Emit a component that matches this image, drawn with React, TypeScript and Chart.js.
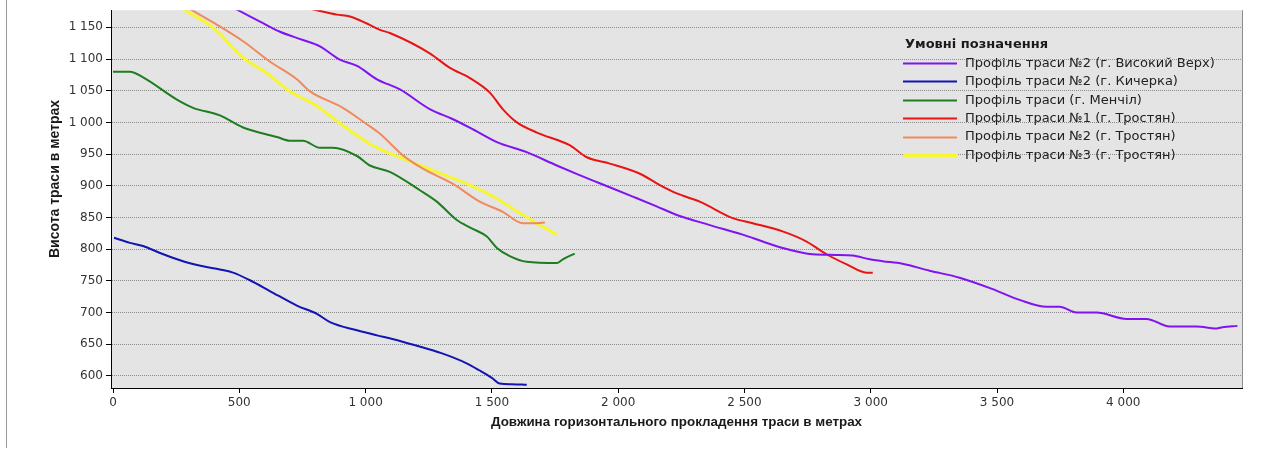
import React, { useEffect, useRef } from "react";
import { Chart, registerables } from "chart.js";

Chart.register(...registerables);

// ---- Data ----
const seriesLabels = [
  "Профіль траси №2 (г. Високий Верх)",
  "Профіль траси №2 (г. Кичерка)",
  "Профіль траси (г. Менчіл)",
  "Профіль траси №1 (г. Тростян)",
  "Профіль траси №2 (г. Тростян)",
  "Профіль траси №3 (г. Тростян)",
];
const seriesColors = ["#8014f0", "#1414b4", "#1e7d1e", "#e81414", "#f08a5d", "#f6f632"];

const vysokyiX = [420, 495, 582, 661, 752, 819, 898, 966, 1045, 1136, 1254, 1346, 1430, 1520, 1638, 1757, 1840, 1927, 2058, 2150, 2232, 2363, 2493, 2580, 2651, 2770, 2860, 2928, 2996, 3047, 3126, 3233, 3352, 3483, 3589, 3696, 3748, 3815, 3894, 4013, 4092, 4183, 4290, 4369, 4393, 4452];
const vysokyiY = [1192, 1177, 1159, 1143, 1130, 1120, 1099, 1089, 1068, 1052, 1021, 1005, 988, 969, 953, 932, 918, 904, 883, 868, 854, 838, 823, 811, 802, 792, 791, 790, 784, 781, 777, 766, 755, 737, 720, 709, 709, 700, 700, 690, 690, 678, 678, 675, 677, 679];

const kycherkaX = [4, 67, 119, 186, 277, 356, 423, 475, 542, 621, 728, 807, 859, 966, 1045, 1110, 1200, 1300, 1400, 1450, 1500, 1531, 1580, 1638];
const kycherkaY = [818, 810, 805, 794, 781, 773, 768, 763, 751, 734, 711, 698, 685, 672, 664, 658, 648, 636, 620, 609, 597, 588, 587, 586];

const menchilX = [0, 67, 119, 253, 317, 423, 515, 649, 700, 752, 819, 870, 966, 1017, 1096, 1215, 1282, 1361, 1420, 1480, 1520, 1571, 1638, 1757, 1781, 1828];
const menchilY = [1080, 1080, 1071, 1036, 1023, 1011, 992, 977, 971, 971, 960, 960, 947, 932, 922, 893, 875, 846, 833, 820, 802, 789, 780, 778, 784, 793];

const trostyan1X = [750, 807, 886, 938, 1005, 1057, 1096, 1254, 1334, 1413, 1492, 1543, 1599, 1678, 1808, 1876, 1967, 2086, 2165, 2232, 2323, 2454, 2533, 2651, 2746, 2825, 2905, 2984, 3008];
const trostyan1Y = [1182, 1177, 1170, 1167, 1156, 1146, 1141, 1109, 1086, 1070, 1047, 1021, 1000, 984, 964, 945, 935, 919, 901, 888, 875, 849, 841, 828, 812, 792, 776, 763, 763];

const trostyan2X = [250, 312, 412, 515, 621, 728, 780, 910, 1005, 1057, 1148, 1227, 1346, 1452, 1543, 1622, 1678, 1710];
const trostyan2Y = [1191, 1177, 1154, 1128, 1096, 1068, 1049, 1023, 997, 982, 948, 927, 903, 875, 859, 841, 841, 842];

const trostyan3X = [230, 285, 397, 516, 608, 700, 807, 910, 1017, 1057, 1148, 1282, 1413, 1520, 1571, 1678, 1757];
const trostyan3Y = [1190, 1177, 1149, 1102, 1078, 1049, 1026, 995, 966, 958, 943, 922, 901, 880, 867, 841, 823];

const seriesX = [vysokyiX, kycherkaX, menchilX, trostyan1X, trostyan2X, trostyan3X];
const seriesY = [vysokyiY, kycherkaY, menchilY, trostyan1Y, trostyan2Y, trostyan3Y];
const seriesWidths = [2, 2, 2, 2, 2, 3];

const xTickValues = [0, 500, 1000, 1500, 2000, 2500, 3000, 3500, 4000];
const yTickValues = [600, 650, 700, 750, 800, 850, 900, 950, 1000, 1050, 1100, 1150];

const xTitle = "Довжина горизонтального прокладення траси в метрах";
const yTitle = "Висота траси в метрах";
const legendTitle = "Умовні позначення";

const fmt = (v: number) => {
  const n = Math.round(v);
  if (Math.abs(n) < 1000) return String(n);
  const th = Math.floor(n / 1000);
  const rest = String(n % 1000).padStart(3, "0");
  return `${th} ${rest}`;
};

const plotBgPlugin = {
  id: "plotBg",
  beforeDraw(chart: any) {
    const { ctx, chartArea } = chart;
    ctx.save();
    ctx.fillStyle = "#ffffff";
    ctx.fillRect(0, 0, chart.width, chart.height);
    ctx.fillStyle = "#e4e4e4";
    ctx.fillRect(chartArea.left, chartArea.top, chartArea.right - chartArea.left, chartArea.bottom - chartArea.top);
    ctx.strokeStyle = "#9a9a9a";
    ctx.lineWidth = 1;
    ctx.beginPath();
    ctx.moveTo(6.5, 0);
    ctx.lineTo(6.5, 448);
    ctx.stroke();
    ctx.restore();
  },
  afterDraw(chart: any) {
    const { ctx, chartArea } = chart;
    ctx.save();
    ctx.strokeStyle = "#8c8c8c";
    ctx.lineWidth = 1;
    ctx.beginPath();
    ctx.moveTo(Math.round(chartArea.right) + 0.5, chartArea.top);
    ctx.lineTo(Math.round(chartArea.right) + 0.5, chartArea.bottom);
    ctx.stroke();
    ctx.translate(55, 179);
    ctx.rotate(-Math.PI / 2);
    ctx.fillStyle = "#1a1a1a";
    ctx.font = "bold 14px 'Liberation Sans', Arial, sans-serif";
    ctx.textAlign = "center";
    ctx.textBaseline = "middle";
    ctx.fillText(yTitle, 0, 0);
    ctx.restore();

    ctx.save();
    ctx.fillStyle = "#1a1a1a";
    ctx.font = "bold 13px 'DejaVu Sans', sans-serif";
    ctx.textAlign = "left";
    ctx.textBaseline = "middle";
    ctx.fillText(legendTitle, 905, 45);
    ctx.font = "13px 'DejaVu Sans', sans-serif";
    chart.data.datasets.forEach((ds: any, i: number) => {
      const y = 63 + i * 18.4;
      ctx.strokeStyle = ds.borderColor;
      ctx.lineWidth = ds.borderWidth;
      ctx.beginPath();
      ctx.moveTo(903, Math.round(y) + 0.5);
      ctx.lineTo(957, Math.round(y) + 0.5);
      ctx.stroke();
      ctx.fillStyle = "#222222";
      ctx.fillText(ds.label, 965, y + 0.5);
    });
    ctx.restore();
  },
};

export default function App() {
  const ref = useRef<HTMLCanvasElement | null>(null);

  useEffect(() => {
    if (!ref.current) return;
    const datasets = seriesLabels.map((label, i) => ({
      label,
      data: seriesX[i].map((x, j) => ({ x, y: seriesY[i][j] })),
      borderColor: seriesColors[i],
      backgroundColor: seriesColors[i],
      borderWidth: seriesWidths[i],
      pointRadius: 0,
      cubicInterpolationMode: "monotone",
      fill: false,
    }));
    const chart = new Chart(ref.current, {
      type: "line",
      data: { datasets },
      plugins: [plotBgPlugin],
      options: {
        animation: false,
        responsive: false,
        layout: { padding: { left: 0, top: 7, right: 34, bottom: 0 } },
        plugins: {
          legend: { display: false },
          tooltip: { enabled: false },
          title: { display: false },
        },
        scales: {
          x: {
            type: "linear",
            min: -8,
            max: 4470,
            afterFit: (s: any) => {
              s.height = 62;
            },
            afterBuildTicks: (s: any) => {
              s.ticks = xTickValues.map((value) => ({ value }));
            },
            ticks: {
              autoSkip: false,
              maxRotation: 0,
              padding: 3,
              color: "#333333",
              font: { family: "'DejaVu Sans', sans-serif", size: 12 },
              callback: (v: any) => fmt(Number(v)),
            },
            grid: {
              drawOnChartArea: false,
              drawTicks: true,
              tickLength: 5,
              tickColor: "#000000",
            },
            border: { display: true, color: "#000000", width: 1 },
            title: {
              display: true,
              text: xTitle,
              color: "#1a1a1a",
              font: { family: "'Liberation Sans', Arial, sans-serif", size: 13.4, weight: "bold" },
              padding: { top: 0, bottom: 20 },
            },
          },
          y: {
            type: "linear",
            min: 581,
            max: 1177,
            afterFit: (s: any) => {
              s.width = 111;
            },
            afterBuildTicks: (s: any) => {
              s.ticks = yTickValues.map((value) => ({ value }));
            },
            ticks: {
              autoSkip: false,
              padding: 3,
              color: "#333333",
              font: { family: "'DejaVu Sans', sans-serif", size: 12 },
              callback: (v: any) => fmt(Number(v)),
            },
            grid: {
              drawOnChartArea: true,
              drawTicks: true,
              tickLength: 5,
              color: "#8a8a8a",
              tickColor: "#000000",
              tickBorderDash: [],
            } as any,
            border: { display: true, color: "#000000", width: 1, dash: [1, 1] },
          },
        },
      } as any,
    });
    return () => chart.destroy();
  }, []);

  return (
    <div style={{ position: "absolute", left: 0, top: 0, width: 1276, height: 450, background: "#fff" }}>
      <canvas ref={ref} width={1276} height={450} style={{ display: "block" }} />
    </div>
  );
}
